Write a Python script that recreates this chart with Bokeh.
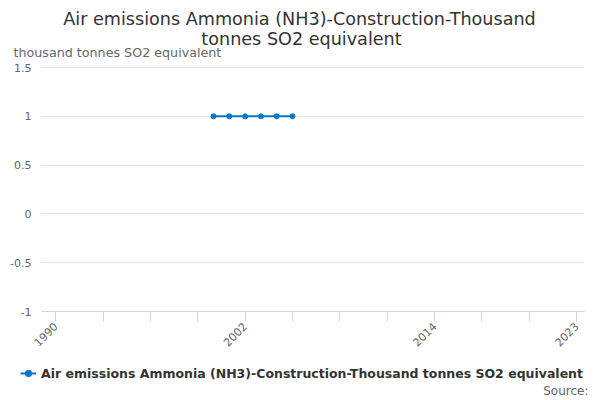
import math
from bokeh.plotting import figure
from bokeh.models import Range1d, FixedTicker, Legend, LegendItem, Label
from bokeh.embed import file_html
from bokeh.resources import INLINE

years = [2000, 2001, 2002, 2003, 2004, 2005]
values = [1, 1, 1, 1, 1, 1]
series_name = "Air emissions Ammonia (NH3)-Construction-Thousand tonnes SO2 equivalent"
title_lines = ["Air emissions Ammonia (NH3)-Construction-Thousand", "tonnes SO2 equivalent"]
y_label = "thousand tonnes SO2 equivalent"
source_text = "Source:"
x_ticks = list(range(1990, 2024, 3))
x_labeled = {1990: "1990", 2002: "2002", 2014: "2014", 2023: "2023"}
y_ticks = [-1, -0.5, 0, 0.5, 1, 1.5]
y_tick_labels = {-1: "-1", -0.5: "-0.5", 0: "0", 0.5: "0.5", 1: "1", 1.5: "1.5"}

FONT = "DejaVu Sans"
COLOR = "#0a78c8"

# plot-area geometry (page pixels) and value extents of the plot area
W, H = 600, 400
PL, PR, PT, PB = 41, 584, 67, 311
X0, X1 = 1989.1, 2023.5
Y0, Y1 = -1.0, 1.5
kx = (X1 - X0) / (PR - PL)
ky = (Y1 - Y0) / (PB - PT)


def X(px):
    return X0 + (px - PL) * kx


def Y(py):
    return Y1 - (py - PT) * ky


p = figure(width=W, height=H, output_backend="svg", toolbar_location=None,
           x_range=Range1d(X(0), X(W)), y_range=Range1d(Y(H), Y(0)),
           min_border=0, min_border_left=0, min_border_right=0,
           min_border_top=0, min_border_bottom=0)
p.title = None
p.outline_line_color = None
p.background_fill_color = "white"
p.border_fill_color = "white"

line = p.line(years, values, line_color=COLOR, line_width=2)
pts = p.scatter(years, values, size=5, fill_color=COLOR, line_color=COLOR)

xa = p.xaxis[0]
xa.fixed_location = Y0
xa.bounds = (X0, X1)
xa.ticker = FixedTicker(ticks=x_ticks)
xa.major_label_overrides = {t: x_labeled.get(t, "") for t in x_ticks}
xa.major_label_orientation = math.pi / 4
xa.axis_line_color = "#ccd6eb"
xa.major_tick_line_color = "#ccd6eb"
xa.major_tick_out = 10
xa.major_tick_in = 0
xa.minor_tick_line_color = None
xa.major_label_text_font = FONT
xa.major_label_text_font_size = "11px"
xa.major_label_text_color = "#666666"
xa.major_label_standoff = 3

ya = p.yaxis[0]
ya.fixed_location = X0
ya.bounds = (Y0, Y1)
ya.ticker = FixedTicker(ticks=y_ticks)
ya.major_label_overrides = y_tick_labels
ya.axis_line_color = None
ya.major_tick_line_color = None
ya.minor_tick_line_color = None
ya.major_tick_out = 0
ya.major_tick_in = 0
ya.major_label_text_font = FONT
ya.major_label_text_font_size = "11px"
ya.major_label_text_color = "#666666"
ya.major_label_standoff = 10

p.xgrid.grid_line_color = None
p.ygrid.ticker = FixedTicker(ticks=y_ticks)
try:
    p.ygrid.cross_bounds = (X0, X1)
    p.ygrid.grid_line_color = "#e6e6e6"
except Exception:
    p.ygrid.grid_line_color = None
    p.segment(x0=[X0] * len(y_ticks), x1=[X1] * len(y_ticks), y0=y_ticks, y1=y_ticks,
              line_color="#e6e6e6", line_width=1, level="underlay")

# titles
p.add_layout(Label(x=X(299), y=Y(18), text=title_lines[0], text_align="center",
                   text_baseline="middle", text_font=FONT, text_font_size="17.6px",
                   text_color="#333333"))
p.add_layout(Label(x=X(301), y=Y(38), text=title_lines[1], text_align="center",
                   text_baseline="middle", text_font=FONT, text_font_size="17.6px",
                   text_color="#333333"))
p.add_layout(Label(x=X(13), y=Y(52), text=y_label, text_align="left",
                   text_baseline="middle", text_font=FONT, text_font_size="12.7px",
                   text_color="#666666"))

# legend and source
legend = Legend(items=[LegendItem(label=series_name, renderers=[line, pts])],
                orientation="horizontal", location=(20, 17),
                label_text_font=FONT, label_text_font_size="12.5px",
                label_text_font_style="bold", label_text_color="#333333",
                border_line_color=None, background_fill_alpha=0,
                glyph_width=16, label_standoff=5, padding=0, margin=0, spacing=0)
p.add_layout(legend, "center")
p.add_layout(Label(x=X(588), y=Y(390), text=source_text, text_align="right",
                   text_baseline="middle", text_font=FONT, text_font_size="12px",
                   text_color="#666666"))

open("out.html", "w").write(file_html(p, INLINE))
